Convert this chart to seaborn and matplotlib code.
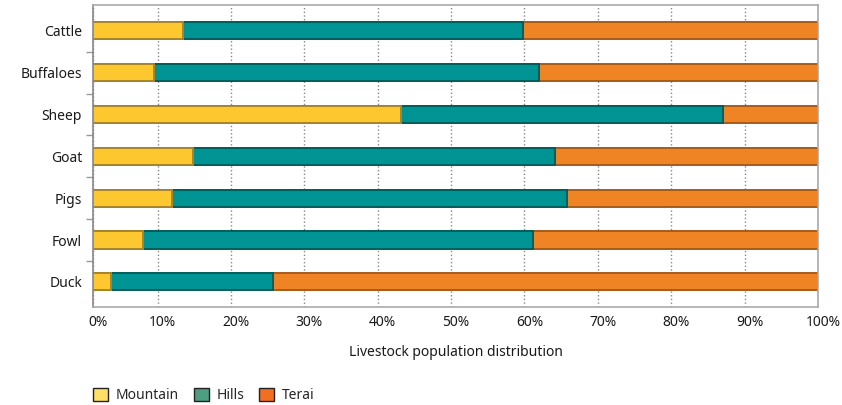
import numpy as np
import pandas as pd
import matplotlib.pyplot as plt
import matplotlib.transforms as mtrans
from matplotlib.patches import Patch
import seaborn as sns

animais = ['Cattle', 'Buffaloes', 'Sheep', 'Goat', 'Pigs', 'Fowl', 'Duck']
mountain = [13.4, 9.5, 43.2, 14.8, 11.9, 8.0, 3.7]
hills = [46.4, 52.5, 43.9, 49.4, 53.9, 53.2, 22.0]
terai = [40.2, 38.0, 12.9, 35.8, 34.2, 38.8, 74.3]
pos_x = [1.2, 10, 20, 30, 40, 50, 60, 70, 80, 90, 100]
rotulos_x = ['0%', '10%', '20%', '30%', '40%', '50%', '60%', '70%', '80%', '90%', '100%']

sns.set_style('white')
plt.rcParams['font.family'] = ['Noto Sans', 'DejaVu Sans']

df = pd.DataFrame({'animal': animais, 'mountain': mountain, 'hills': hills, 'terai': terai})
df['ate_hills'] = df['mountain'] + df['hills']
df['total'] = df['ate_hills'] + df['terai']

fig = plt.figure(figsize=(8.42, 4.05), dpi=100)
ax = fig.add_axes([0.1105, 0.242, 0.861, 0.746])

# barras empilhadas por sobreposicao: total, depois hills, depois mountain
sns.barplot(data=df, x='total', y='animal', color='#EE8424', edgecolor='#A85A1C',
            linewidth=1.4, width=0.41, saturation=1, ax=ax)
sns.barplot(data=df, x='ate_hills', y='animal', color='#009393', edgecolor='#005E5C',
            linewidth=1.4, width=0.41, saturation=1, ax=ax)
sns.barplot(data=df, x='mountain', y='animal', color='#FDC72F', edgecolor='#A8862A',
            linewidth=1.4, width=0.41, saturation=1, ax=ax)

ax.set_xlim(1.2, 100)
ax.set_ylim(6.6, -0.62)
ax.set_xticks(pos_x)
ax.set_xticklabels([])
ax.tick_params(axis='x', length=0)
# rotulos do eixo x levemente deslocados pra direita, como no original
desloc = mtrans.ScaledTranslation(5 / 100, -8 / 100, fig.dpi_scale_trans)
for p, r in zip(pos_x, rotulos_x):
    ax.text(p, 0, r, transform=ax.get_xaxis_transform() + desloc, ha='center', va='top',
            fontsize=10, color='#1a1a1a')

ax.set_yticks(range(len(animais)))
ax.set_yticklabels(animais, fontsize=10, color='#1a1a1a')
ax.set_yticks(np.arange(0.5, 6), minor=True)
ax.tick_params(axis='y', which='major', length=0, pad=8)
ax.tick_params(axis='y', which='minor', length=5, width=1, color='#999999', left=True)

ax.xaxis.grid(True, linestyle=':', color='#888888', linewidth=1)
ax.set_axisbelow(True)
for lado in ['top', 'right', 'bottom', 'left']:
    ax.spines[lado].set_color('#aaaaaa')
    ax.spines[lado].set_linewidth(1.2)
ax.spines['left'].set_color('#888888')

ax.set_ylabel('')
ax.set_xlabel('Livestock population distribution', fontsize=10, color='#1a1a1a', labelpad=24)

legenda = [Patch(facecolor='#FFE066', edgecolor='#222222', label='Mountain'),
           Patch(facecolor='#4E9E82', edgecolor='#222222', label='Hills'),
           Patch(facecolor='#F26F21', edgecolor='#222222', label='Terai')]
fig.legend(handles=legenda, loc='lower left', bbox_to_anchor=(0.096, -0.027), ncol=3,
           frameon=False, fontsize=10, handlelength=1.05, handleheight=1.05,
           handletextpad=0.55, columnspacing=1.1)

fig.savefig('out.png', dpi=100)
